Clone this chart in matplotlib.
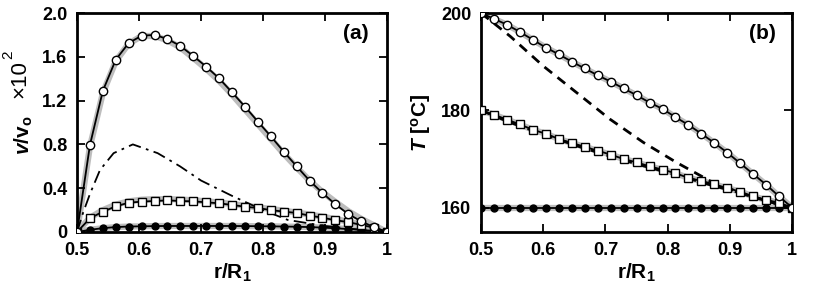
import numpy as np
import matplotlib.pyplot as plt

plt.rcParams["font.family"] = ["Liberation Sans", "DejaVu Sans"]
plt.rcParams["mathtext.fontset"] = "custom"
plt.rcParams["mathtext.rm"] = "Liberation Sans:bold"
plt.rcParams["mathtext.it"] = "Liberation Sans:bold:italic"
plt.rcParams["mathtext.bf"] = "Liberation Sans:bold"

# radial grid of the simulation points
r = np.linspace(0.5, 1.0, 25)

# (a) velocity profiles (x 10^2)
v_open = [0, 0.795, 1.29, 1.574, 1.726, 1.793, 1.80, 1.763, 1.699, 1.607, 1.51, 1.403,
          1.275, 1.145, 1.008, 0.874, 0.734, 0.60, 0.469, 0.356, 0.253, 0.164, 0.097, 0.043, 0]
v_open_gray = [0, 0.78, 1.27, 1.56, 1.72, 1.79, 1.79, 1.75, 1.685, 1.59, 1.49, 1.38,
               1.255, 1.12, 0.985, 0.85, 0.715, 0.59, 0.47, 0.365, 0.275, 0.19, 0.12, 0.06, 0]
v_square = [0, 0.125, 0.186, 0.234, 0.268, 0.277, 0.283, 0.289, 0.283, 0.28, 0.271, 0.262,
            0.247, 0.231, 0.219, 0.20, 0.186, 0.174, 0.149, 0.131, 0.107, 0.091, 0.064, 0.04, 0]
v_square_gray = [0, 0.13, 0.2, 0.25, 0.28, 0.295, 0.3, 0.3, 0.297, 0.29, 0.28, 0.27,
                 0.255, 0.24, 0.225, 0.21, 0.195, 0.178, 0.16, 0.14, 0.118, 0.095, 0.07, 0.04, 0]
v_filled = [0, 0.02, 0.035, 0.045, 0.05, 0.052, 0.054, 0.055, 0.055, 0.055, 0.055, 0.055,
            0.055, 0.054, 0.053, 0.052, 0.05, 0.048, 0.045, 0.04, 0.034, 0.027, 0.019, 0.01, 0]
r_dd = [0.5, 0.51, 0.521, 0.537, 0.559, 0.59, 0.63, 0.666, 0.70, 0.75, 0.80, 0.84, 0.90, 0.95, 1.0]
v_dd = [0, 0.18, 0.35, 0.566, 0.72, 0.80, 0.72, 0.60, 0.47, 0.33, 0.2, 0.11, 0.055, 0.025, 0]

# (b) temperature profiles
T_open = [200, 198.8, 197.6, 196.1, 194.5, 192.9, 191.5, 190.0, 188.6, 187.2, 185.9, 184.5,
          183.1, 181.6, 180.3, 178.6, 177.0, 175.2, 173.3, 171.3, 169.1, 166.9, 164.7, 162.3, 160]
T_square = [180, 179.1, 178.1, 177.1, 176.0, 175.2, 174.1, 173.3, 172.5, 171.7, 170.9, 170.0,
            169.3, 168.5, 167.8, 167.1, 166.1, 165.5, 164.8, 164.0, 163.3, 162.3, 161.6, 161.0, 160]
T_filled = [160] * 25
r_dash = [0.5, 0.547, 0.6, 0.654, 0.707, 0.761, 0.814, 0.868, 0.921, 0.975, 1.0]
T_dash = [200, 195.2, 189.1, 183.6, 178.2, 173.4, 169.3, 165.5, 162.8, 160.8, 160]
T_dash_sq = [180, 177.5, 175.1, 172.7, 170.6, 168.6, 166.75, 164.7, 162.9, 160.8, 160]

fig = plt.figure(figsize=(8.23, 2.93), dpi=100)
ax1 = fig.add_axes([0.0936, 0.2082, 0.3767, 0.7474])
ax2 = fig.add_axes([0.5845, 0.2082, 0.378, 0.7474])

gray = dict(color="#bdbdbd", lw=4.5, solid_capstyle="round", zorder=1)
blk = dict(color="black", lw=1.3, zorder=3)

# panel (a)
ax1.plot(r, v_open_gray, **gray)
ax1.plot(r, v_square_gray, **gray)
ax1.plot(r, v_filled, **gray)
ax1.plot(r_dd, v_dd, color="black", lw=1.3, dashes=[7, 3, 1.5, 3], zorder=2)
ax1.plot(r, v_filled, marker="o", ms=5, mfc="black", mec="black", **blk)
ax1.plot(r, v_square, marker="s", ms=5.5, mfc="white", mec="black", mew=1, **blk)
ax1.plot(r, v_open, marker="o", ms=6, mfc="white", mec="black", mew=1, **blk)
ax1.set_xlim(0.5, 1.0)
ax1.set_ylim(0, 2.0)
ax1.set_yticks([0, 0.4, 0.8, 1.2, 1.6, 2.0])
ax1.set_yticklabels(["0", "0.4", "0.8", "1.2", "1.6", "2.0"])
ax1.text(0.9, 0.905, "(a)", transform=ax1.transAxes, ha="center", va="center",
         fontsize=15, fontweight="bold")
ax1.text(-0.171, 0.44, r"$v$/v$_\mathregular{o}$", transform=ax1.transAxes, rotation=90,
         ha="center", va="center", fontsize=15, fontweight="bold")
ax1.text(-0.184, 0.70, "×10", transform=ax1.transAxes, rotation=90,
         ha="center", va="center", fontsize=16, fontweight="normal")
ax1.text(-0.222, 0.81, "2", transform=ax1.transAxes, rotation=90,
         ha="center", va="center", fontsize=11, fontweight="normal")

# panel (b)
ax2.plot(r, T_open, **gray)
ax2.plot(r, T_square, **gray)
ax2.plot(r, T_filled, **gray)
ax2.plot(r_dash, T_dash, color="black", lw=2, dashes=[3.5, 2.5], zorder=2)
ax2.plot(r_dash, T_dash_sq, color="black", lw=2, dashes=[3.5, 2.5], zorder=2)
ax2.plot(r, T_filled, marker="o", ms=5, mfc="black", mec="black", **blk)
ax2.plot(r, T_square, marker="s", ms=5.5, mfc="white", mec="black", mew=1, **blk)
ax2.plot(r, T_open, marker="o", ms=6, mfc="white", mec="black", mew=1, **blk)
ax2.set_xlim(0.5, 1.0)
ax2.set_ylim(155, 200)
ax2.set_yticks([160, 180, 200])
ax2.text(0.903, 0.905, "(b)", transform=ax2.transAxes, ha="center", va="center",
         fontsize=15, fontweight="bold")
ax2.set_ylabel(r"$T$ [$^\mathregular{o}$C]", fontsize=15, fontweight="bold", labelpad=6)

for ax in (ax1, ax2):
    ax.set_xticks([0.5, 0.6, 0.7, 0.8, 0.9, 1.0])
    ax.set_xticklabels(["0.5", "0.6", "0.7", "0.8", "0.9", "1"])
    ax.set_xlabel(r"r/R$_\mathregular{1}$", fontsize=15, fontweight="bold", labelpad=2)
    ax.tick_params(direction="in", top=True, right=True, length=6, width=1.3,
                   labelsize=13, pad=7)
    for lab in ax.get_xticklabels() + ax.get_yticklabels():
        lab.set_fontweight("bold")
    for s in ax.spines.values():
        s.set_linewidth(2)

fig.savefig("out.png", dpi=100)
